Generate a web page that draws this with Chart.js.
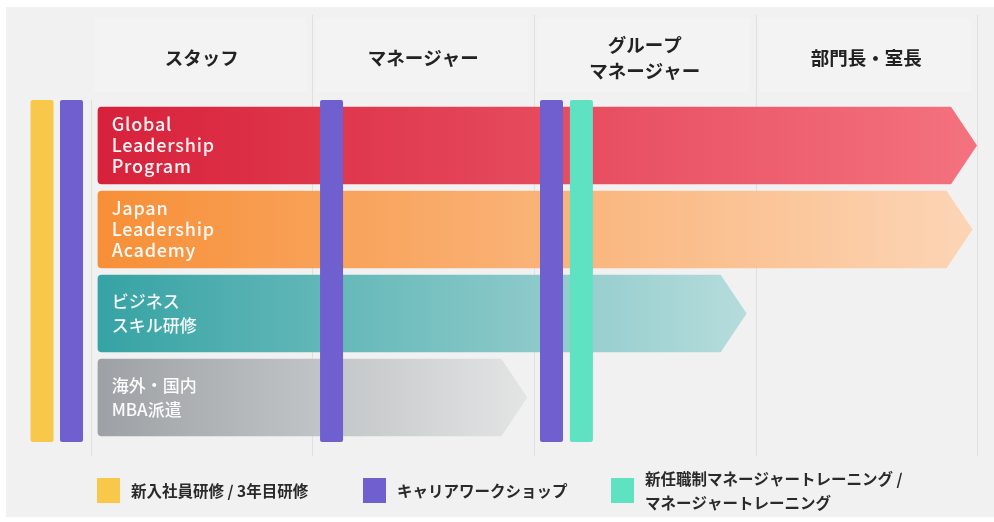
<!DOCTYPE html>
<html>
<head>
<meta charset="utf-8">
<script src="https://cdn.jsdelivr.net/npm/chart.js@4"></script>
<style>
  html, body { margin: 0; padding: 0; background: #ffffff; }
  #wrap { width: 994px; height: 522px; }
</style>
</head>
<body>
<div id="wrap"><canvas id="chart"></canvas></div>
<script>
// career stages (x axis, one unit per stage)
const stages = [['スタッフ'], ['マネージャー'], ['グループ', 'マネージャー'], ['部門長・室長']];

// programs (rows) and the stage range each one covers
const programs = [
  ['Global', 'Leadership', 'Program'],
  ['Japan', 'Leadership', 'Academy'],
  ['ビジネス', 'スキル研修'],
  ['海外・国内', 'MBA派遣']
];
const programStart = [0.03, 0.03, 0.03, 0.03];
const programEnd = [4.0, 3.98, 2.96, 1.97];
const programColors = [
  ['#d7213a', '#f4727f'],
  ['#f78f37', '#fcd5b6'],
  ['#36a3a4', '#b6dcdc'],
  ['#9da1a5', '#e3e5e5']
];

// one-off trainings (vertical markers) at a stage position
const trainings = ['新入社員研修 / 3年目研修', 'キャリアワークショップ', '新任職制マネージャートレーニング / マネージャートレーニング'];
const trainingColors = ['#f8c84a', '#7060cf', '#5fe2c2'];
const markerPos = [-0.221, -0.088, 1.086, 2.079, 2.214];
const markerType = [0, 1, 1, 1, 2];

const FONT = '"Noto Sans CJK JP", "Noto Sans", sans-serif';

const diagram = {
  id: 'diagram',
  beforeDraw(chart) {
    const { ctx, scales: { x } } = chart;
    ctx.save();
    ctx.fillStyle = '#f2f1f1';
    ctx.fillRect(6, 7, 988, 510);
    // header boxes
    ctx.fillStyle = '#f4f3f3';
    for (let i = 0; i < stages.length; i++) {
      const l = x.getPixelForValue(i) + 3, r = x.getPixelForValue(i + 1) - 6;
      ctx.fillRect(l, 18, r - l, 74);
    }
    // stage separators
    ctx.strokeStyle = '#e1dfdf';
    ctx.lineWidth = 1;
    for (let i = 1; i <= stages.length; i++) {
      const px = Math.round(x.getPixelForValue(i)) + 0.5;
      ctx.beginPath();
      ctx.moveTo(px, 15);
      ctx.lineTo(px, 456);
      ctx.stroke();
    }
    const p0 = Math.round(x.getPixelForValue(0)) + 0.5;
    ctx.beginPath();
    ctx.moveTo(p0, 100);
    ctx.lineTo(p0, 456);
    ctx.stroke();
    // stage headers
    ctx.fillStyle = '#222222';
    ctx.font = 'bold 18.5px ' + FONT;
    ctx.textAlign = 'center';
    ctx.textBaseline = 'middle';
    stages.forEach((lines, i) => {
      const cx = x.getPixelForValue(i + 0.5);
      const lh = 26;
      const y0 = 58 - (lines.length - 1) * lh / 2;
      lines.forEach((t, k) => ctx.fillText(t, cx, y0 + k * lh));
    });
    ctx.restore();
  },
  afterDatasetsDraw(chart) {
    const { ctx, chartArea, scales: { x } } = chart;
    const meta = chart.getDatasetMeta(0);
    ctx.save();
    meta.data.forEach((bar, i) => {
      const left = bar.base, right = bar.x;
      const top = bar.y - bar.height / 2, bottom = bar.y + bar.height / 2;
      const tip = 26, r = 4;
      const g = ctx.createLinearGradient(left, 0, right, 0);
      g.addColorStop(0, programColors[i][0]);
      g.addColorStop(1, programColors[i][1]);
      ctx.fillStyle = g;
      ctx.beginPath();
      ctx.moveTo(left + r, top);
      ctx.lineTo(right - tip, top);
      ctx.lineTo(right, bar.y);
      ctx.lineTo(right - tip, bottom);
      ctx.lineTo(left + r, bottom);
      ctx.quadraticCurveTo(left, bottom, left, bottom - r);
      ctx.lineTo(left, top + r);
      ctx.quadraticCurveTo(left, top, left + r, top);
      ctx.closePath();
      ctx.fill();
      // program label
      const lines = programs[i];
      const cjk = /[^\x00-\x7f]/.test(lines.join(''));
      const lh = cjk ? 23.5 : 21;
      ctx.fillStyle = 'rgba(255,255,255,0.95)';
      if (cjk) {
        ctx.font = '500 17px ' + FONT;
        ctx.letterSpacing = '0px';
      } else {
        ctx.font = '500 18px ' + FONT;
        ctx.letterSpacing = '0.8px';
      }
      ctx.textAlign = 'left';
      ctx.textBaseline = 'middle';
      const y0 = bar.y - (lines.length - 1) * lh / 2;
      lines.forEach((t, k) => ctx.fillText(t, left + 14, y0 + k * lh));
    });
    ctx.letterSpacing = '0px';
    // training markers
    const w = 23;
    markerPos.forEach((v, i) => {
      const cx = x.getPixelForValue(v);
      ctx.fillStyle = trainingColors[markerType[i]];
      ctx.beginPath();
      ctx.roundRect(cx - w / 2, chartArea.top - 3.5, w, chartArea.bottom - chartArea.top + 6, 2);
      ctx.fill();
    });
    // legend
    const legendX = [97, 363, 611];
    ctx.font = 'bold 15.5px ' + FONT;
    ctx.textAlign = 'left';
    ctx.textBaseline = 'middle';
    trainings.forEach((t, i) => {
      ctx.fillStyle = trainingColors[i];
      ctx.fillRect(legendX[i], 478, 23, 25);
      ctx.fillStyle = '#2a2a2a';
      const parts = t.includes('マネージャートレーニング / ') ? [t.split(' / ')[0] + ' /', t.split(' / ')[1]] : [t];
      const y0 = 491 - (parts.length - 1) * 24 / 2;
      parts.forEach((p, k) => ctx.fillText(p, legendX[i] + 34, y0 + k * 24));
    });
    ctx.restore();
  }
};

new Chart(document.getElementById('chart'), {
  type: 'bar',
  data: {
    labels: programs.map(p => p.join(' ')),
    datasets: [{
      data: programStart.map((s, i) => [s, programEnd[i]]),
      backgroundColor: 'rgba(0,0,0,0)',
      borderWidth: 0,
      barPercentage: 0.92,
      categoryPercentage: 1.0
    }]
  },
  options: {
    indexAxis: 'y',
    responsive: true,
    maintainAspectRatio: false,
    animation: false,
    layout: { padding: { top: 103.5, bottom: 82.5, left: 0, right: 0 } },
    plugins: { legend: { display: false }, tooltip: { enabled: false } },
    scales: {
      x: { type: 'linear', min: -0.4108, max: 4.0767, display: false },
      y: { display: false, offset: true }
    }
  },
  plugins: [diagram]
});
</script>
</body>
</html>
